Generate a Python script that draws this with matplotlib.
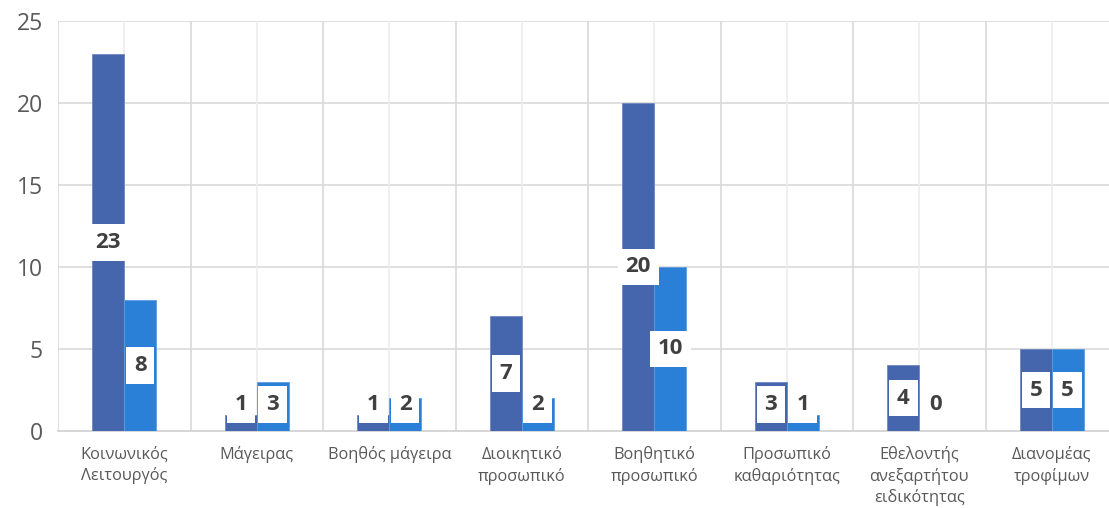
import matplotlib.pyplot as plt
import numpy as np

# data
categories = ['Κοινωνικός\nΛειτουργός', 'Μάγειρας', 'Βοηθός μάγειρα', 'Διοικητικό\nπροσωπικό',
              'Βοηθητικό\nπροσωπικό', 'Προσωπικό\nκαθαριότητας', 'Εθελοντής\nανεξαρτήτου\nειδικότητας',
              'Διανομέας\nτροφίμων']
series_a = [23, 1, 1, 7, 20, 3, 4, 5]
series_b = [8, 3, 2, 2, 10, 1, 0, 5]
yticks = [0, 5, 10, 15, 20, 25]

plt.rcParams['font.family'] = ['Open Sans', 'DejaVu Sans']

fig = plt.figure(figsize=(11.09, 5.08), dpi=100)
ax = fig.add_axes([58 / 1109, 77 / 508, 1060 / 1109, 410 / 508])

x = np.arange(len(categories))
w = 0.24
dark = '#4565ad'
light = '#2a7fd6'

bars_a = ax.bar(x - w / 2, series_a, w, color=dark, edgecolor='#6f88c2', linewidth=0.6, zorder=3)
bars_b = ax.bar(x + w / 2, series_b, w, color=light, edgecolor='#5d9de0', linewidth=0.6, zorder=3)

# value labels centred in bars, white boxes
for xs, vals in [(x - w / 2, series_a), (x + w / 2, series_b)]:
    for xi, v in zip(xs, vals):
        ax.text(xi, max(v / 2, 1.6), str(v), ha='center', va='center', fontsize=16,
                fontweight='bold', color='#404040', zorder=5,
                bbox=dict(boxstyle='square,pad=0.35', fc='white', ec='none'))

ax.set_xlim(-0.5, len(categories) - 0.5)
ax.set_ylim(0, 25)
ax.set_yticks(yticks)
ax.set_xticks(x)
ax.set_xticklabels(categories, fontsize=11.8, color='#595959', linespacing=1.35)
ax.tick_params(axis='y', labelsize=16.5, colors='#595959', length=0, pad=11)
ax.tick_params(axis='x', length=0, pad=11)

for s in ['top', 'right', 'left']:
    ax.spines[s].set_visible(False)
ax.spines['bottom'].set_color('#d0d0d0')
ax.spines['bottom'].set_linewidth(1.2)

for yv in yticks[1:]:
    ax.axhline(yv, color='#d9d9d9', linewidth=1.2, zorder=1)
for b in np.arange(-0.5, len(categories), 1.0):
    ax.axvline(b, color='#d9d9d9', linewidth=1.2, zorder=1)
for c in x:
    ax.axvline(c, color='#ececec', linewidth=1.2, zorder=1)

fig.savefig('out.png', dpi=100)
